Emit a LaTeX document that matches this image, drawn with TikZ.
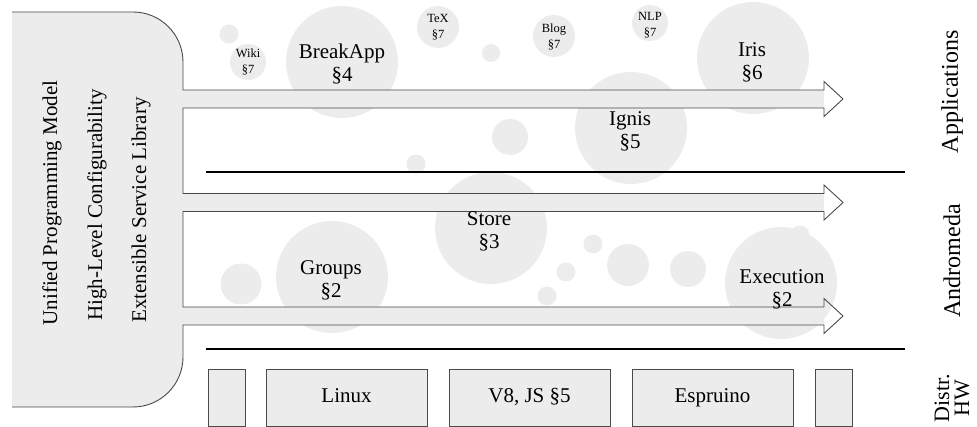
\documentclass[tikz,border=0pt]{standalone}
\usepackage{fontspec}
\setmainfont{Liberation Serif}
\definecolor{bub}{HTML}{ECECEC}
\definecolor{edgegray}{HTML}{4A4A4A}
\begin{document}
\begin{tikzpicture}[x=1pt,y=-1pt,
  bubble/.style={circle,fill=bub,draw=none,inner sep=0pt},
  bigtxt/.style={align=center,inner sep=0pt,font=\fontsize{21}{23}\selectfont},
  smalltxt/.style={align=center,inner sep=0pt,font=\fontsize{12.5}{16}\selectfont},
  sidetxt/.style={rotate=90,align=center,inner sep=0pt,font=\fontsize{21}{21}\selectfont},
  layertxt/.style={rotate=90,align=center,inner sep=0pt,font=\fontsize{24}{24}\selectfont},
  hwbox/.style={draw=edgegray,fill=bub,line width=0.9pt,inner sep=0pt,
    text height=15pt,text depth=5pt,font=\fontsize{21}{23}\selectfont},
  sep/.style={line width=2.4pt,black},
  outline/.style={draw=edgegray,line width=0.9pt,line join=miter}]
\useasboundingbox (0,0) rectangle (977,427);

% background bubbles
\node[bubble,minimum size=19pt] (b1) at (229,34) {};
\node[bubble,minimum size=36pt] (cwiki) at (248,62) {};
\node[bubble,minimum size=112pt] (cbreak) at (342,62) {};
\node[bubble,minimum size=42pt] (ctex) at (438,27) {};
\node[bubble,minimum size=18pt] (b2) at (491,53) {};
\node[bubble,minimum size=19pt] (b3) at (416,164) {};
\node[bubble,minimum size=36pt] (b4) at (510,137) {};
\node[bubble,minimum size=42pt] (cblog) at (554,36) {};
\node[bubble,minimum size=36pt] (cnlp) at (650,23) {};
\node[bubble,minimum size=112pt] (ciris) at (753,58) {};
\node[bubble,minimum size=112pt] (cignis) at (631,128) {};
\node[bubble,minimum size=112pt] (cstore) at (491,228) {};
\node[bubble,minimum size=19pt] (b5) at (593,244) {};
\node[bubble,minimum size=19pt] (b6) at (566,272) {};
\node[bubble,minimum size=19pt] (b7) at (547,296) {};
\node[bubble,minimum size=42pt] (b8) at (628,265) {};
\node[bubble,minimum size=36pt] (b9) at (688,269) {};
\node[bubble,minimum size=19pt] (b10) at (800,235) {};
\node[bubble,minimum size=112pt] (cexec) at (781,283) {};
\node[bubble,minimum size=41pt] (b11) at (241,284) {};
\node[bubble,minimum size=112pt] (cgroups) at (332,277) {};

% panel with three arrows: fill (shafts only)
\fill[bub] (12,12) -- (133,12) .. controls (160.6,12) and (183,34.4) .. (183,62)
  -- (183,90) -- (824,90) -- (824,108) -- (183,108)
  -- (183,193.5) -- (824,193.5) -- (824,211.5) -- (183,211.5)
  -- (183,307) -- (824,307) -- (824,325) -- (183,325)
  -- (183,357) .. controls (183,384.6) and (160.6,407) .. (133,407)
  -- (12,407) -- cycle;
% outline (no left edge)
\draw[outline] (12,12) -- (133,12) .. controls (160.6,12) and (183,34.4) .. (183,62)
  -- (183,90) -- (824,90) -- (824,81.5) -- (843,99) -- (824,116.5) -- (824,108) -- (183,108)
  -- (183,193.5) -- (824,193.5) -- (824,185) -- (843,202.5) -- (824,220) -- (824,211.5) -- (183,211.5)
  -- (183,307) -- (824,307) -- (824,298.5) -- (843,316) -- (824,333.5) -- (824,325) -- (183,325)
  -- (183,357) .. controls (183,384.6) and (160.6,407) .. (133,407)
  -- (12,407);

% separator lines
\coordinate (s1a) at (206,172); \coordinate (s1b) at (905,172);
\coordinate (s2a) at (206,349); \coordinate (s2b) at (905,349);
\draw[sep] (s1a) -- (s1b);
\draw[sep] (s2a) -- (s2b);

% hardware boxes
\node[hwbox,minimum width=37pt,minimum height=57pt] (hw1) at (226.5,397.5) {};
\node[hwbox,minimum width=161pt,minimum height=57pt] (linux) at (346.5,397.5) {Linux};
\node[hwbox,minimum width=161pt,minimum height=57pt] (v8) at (529.5,397.5) {V8, JS §5};
\node[hwbox,minimum width=161pt,minimum height=57pt] (espruino) at (712.5,397.5) {Espruino};
\node[hwbox,minimum width=37pt,minimum height=57pt] (hw2) at (833.5,397.5) {};

% bubble texts
\node[bigtxt] (tbreak) at (342,64.5) {BreakApp\\§4};
\node[bigtxt] (tiris) at (752,62) {Iris\\§6};
\node[bigtxt] (tignis) at (630,131.5) {Ignis\\§5};
\node[bigtxt] (tstore) at (489,231) {Store\\§3};
\node[bigtxt] (tgroups) at (331,280.5) {Groups\\§2};
\node[bigtxt] (texec) at (782,289) {Execution\\§2};
\node[smalltxt] (twiki) at (248,62) {Wiki\\§7};
\node[smalltxt] (ttex) at (438,27) {TeX\\§7};
\node[smalltxt] (tblog) at (554,37) {Blog\\§7};
\node[smalltxt] (tnlp) at (650,25.5) {NLP\\§7};

% left panel texts
\node[sidetxt] (l1) at (52,203) {Unified Programming Model};
\node[sidetxt] (l2) at (97,205) {High-Level Configurability};
\node[sidetxt] (l3) at (141,210) {Extensible Service Library};

% right layer labels
\node[layertxt] (rapp) at (952,92) {Applications};
\node[layertxt] (rand) at (952,261) {Andromeda};
\node[sidetxt,font=\fontsize{22}{20}\selectfont] (rhw) at (952,398) {Distr.\\HW};
\end{tikzpicture}
\end{document}
